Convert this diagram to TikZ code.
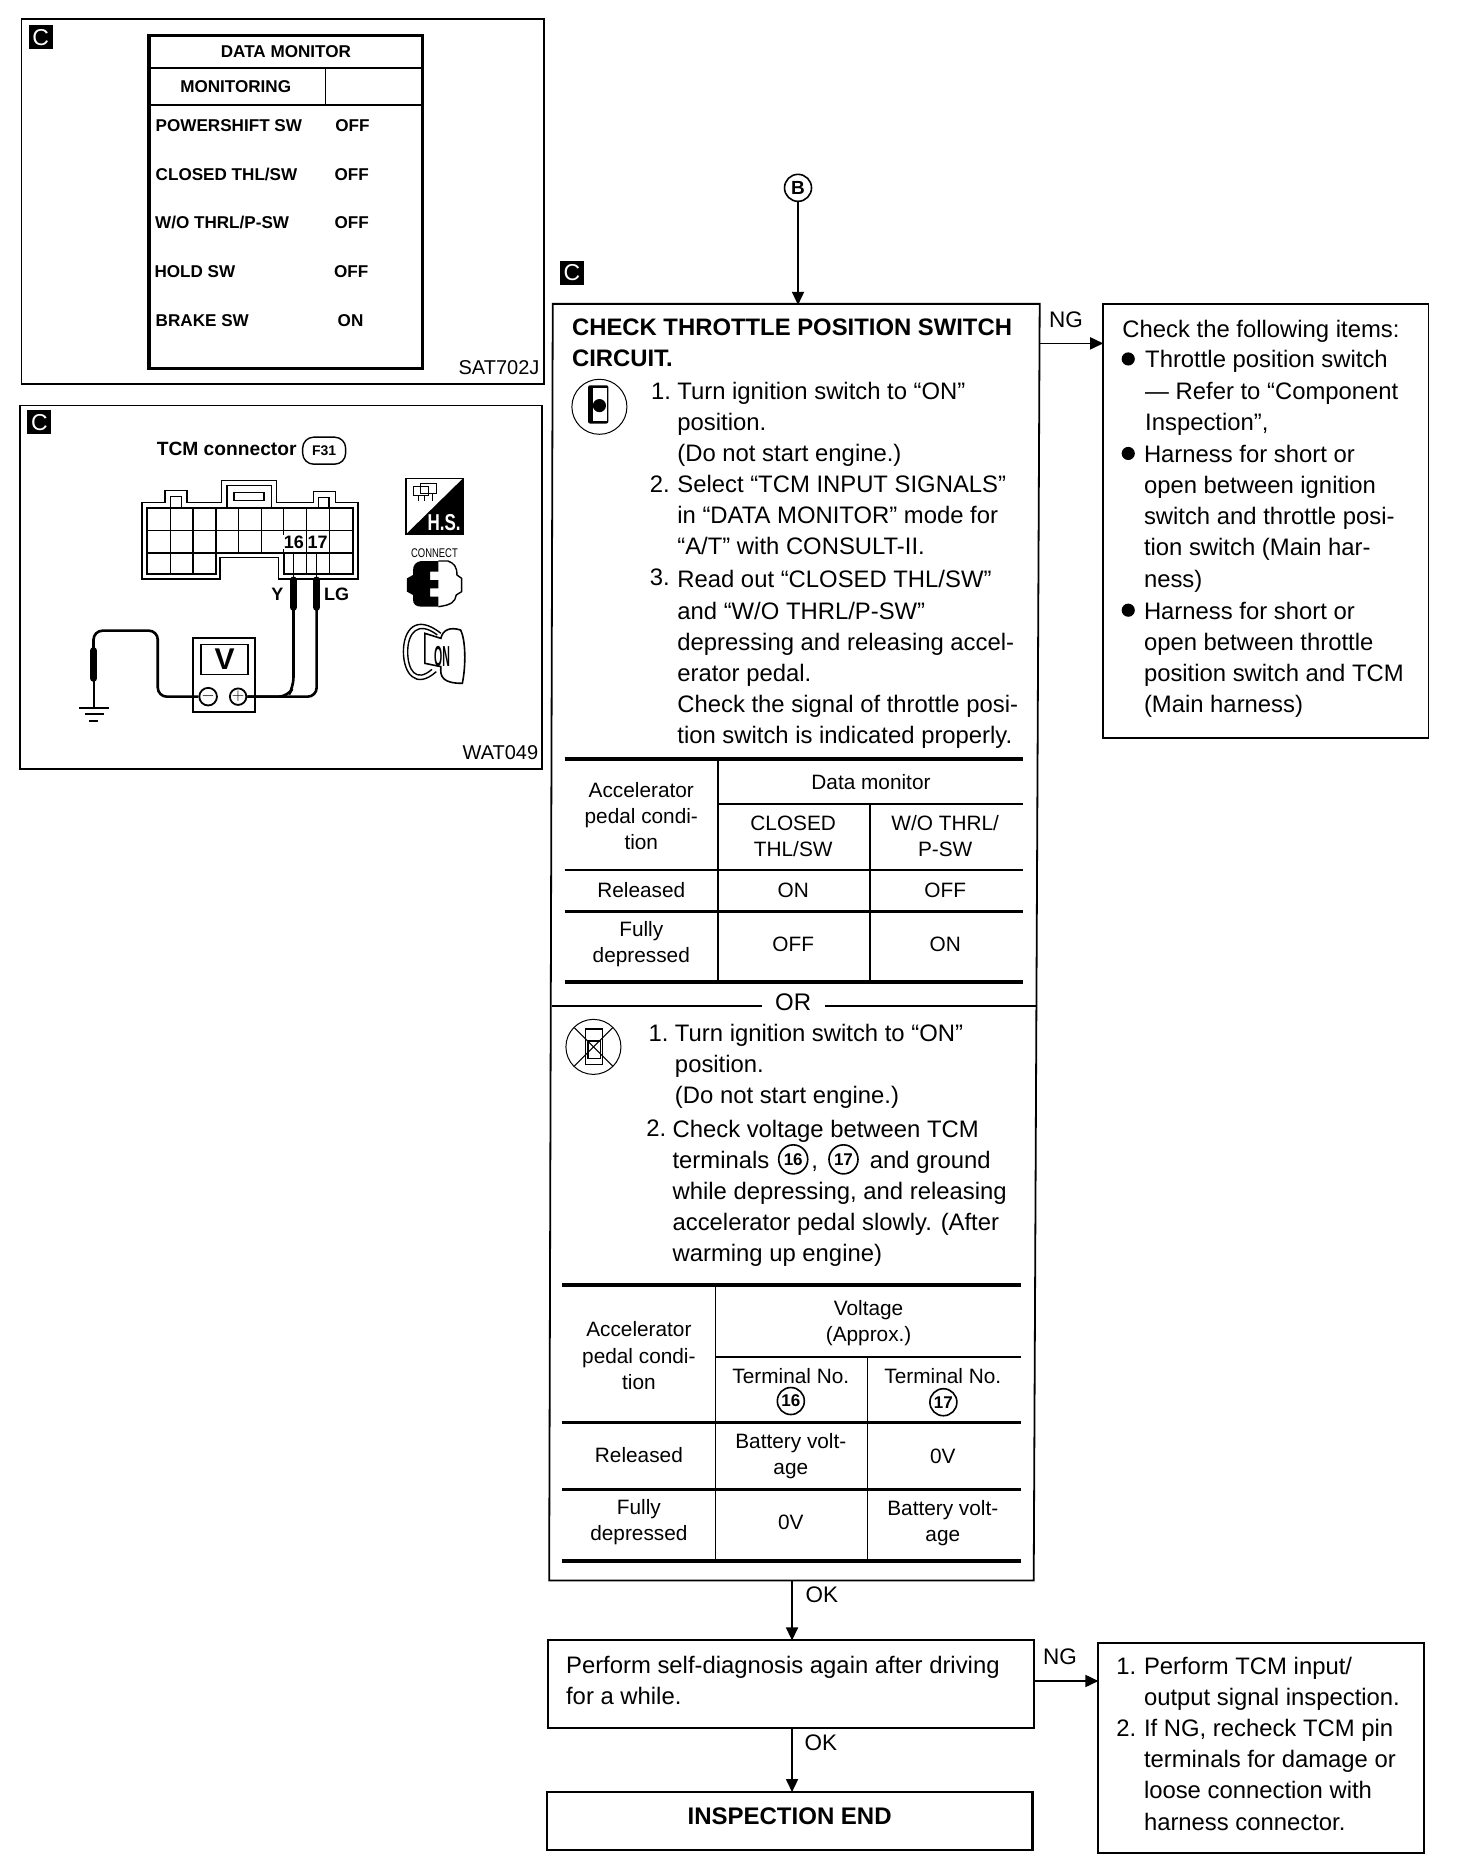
\documentclass[tikz,border=0pt]{standalone}
\usepackage{fontspec}
\setmainfont{Liberation Sans}
\usetikzlibrary{arrows.meta,fit}
\tikzset{
	txt/.style={align=left,anchor=base west,inner sep=0pt,yshift=-8pt,font=\fontsize{23.85}{31.2}\selectfont},
	hdr/.style={txt,font=\fontsize{23.85}{31.2}\selectfont\bfseries},
	cell/.style={align=center,inner sep=0pt,font=\fontsize{20.8}{26.3}\selectfont},
	lbl/.style={cell,font=\fontsize{22.5}{24}\selectfont},
	mon/.style={anchor=west,inner sep=0pt,font=\fontsize{17.1}{19}\selectfont\bfseries},
	badge/.style={fill=black,text=white,inner sep=0pt,minimum size=24pt,font=\fontsize{23}{23}\selectfont},
	code/.style={anchor=east,inner sep=0pt,font=\fontsize{20}{22}\selectfont},
	numc/.style={draw,circle,line width=1.6pt,inner sep=0pt,minimum size=29pt,font=\fontsize{17}{17}\selectfont\bfseries},
	box/.style={draw,line width=1.8pt,inner sep=0pt},
	arr/.style={line width=1.7pt,-{Triangle[length=13pt,width=12pt]},shorten >=-1pt},
	plain/.style={line width=1.8pt},
	heavy/.style={line width=4pt},
	wire/.style={line width=2.6pt,rounded corners=9pt},
	tipbar/.style={line width=7pt,line cap=round}
}
\begin{document}
\begin{tikzpicture}[x=1.1964pt,y=-1.1964pt]
	\useasboundingbox (0,0) rectangle (1217,1568);
	\fill[white] (0,0) rectangle (1217,1568);

	\node[box,fit={(18,16)(455,321)}] (panelmon) {};
	\node[badge] (badgemon) at (34,31) {C};
	\draw[line width=3.4pt] (124.5,29.5) rectangle (353,308);
	\draw[plain] (125,57) -- (353,57);
	\draw[plain] (125,88) -- (353,88);
	\draw[plain] (272,57) -- (272,88);
	\node[mon,anchor=center] (monhead) at (239,43) {DATA MONITOR};
	\node[mon,anchor=center] (monsub) at (197,72) {MONITORING};
	\node[mon] (sigpower) at (130,105) {POWERSHIFT SW};
	\node[mon] (sigclosed) at (130,146) {CLOSED THL/SW};
	\node[mon] (sigwo) at (129.5,186) {W/O THRL/P-SW};
	\node[mon] (sighold) at (129,227) {HOLD SW};
	\node[mon] (sigbrake) at (130,268) {BRAKE SW};
	\node[mon,anchor=center] (valpower) at (294.5,105) {OFF};
	\node[mon,anchor=center] (valclosed) at (294,146) {OFF};
	\node[mon,anchor=center] (valwo) at (294,186) {OFF};
	\node[mon,anchor=center] (valhold) at (293.5,227) {OFF};
	\node[mon,anchor=center] (valbrake) at (293,268) {ON};
	\node[code] (codemon) at (451,307) {SAT702J};

	\node[box,fit={(17,339)(453,643)}] (panelcon) {};
	\node[badge] (badgecon) at (33,353) {C};
	\begin{scope}[x=.357pt,y=-.3333pt,shift={(0pt,-400pt)}]
		\draw[line width=1.6pt] (398,308) -- (463,308) -- (463,272) -- (523,272) -- (523,308) -- (620,308) -- (620,242) -- (775,242) -- (775,308) -- (878,308) -- (878,275) -- (940,275) -- (940,308) -- (1003,308) -- (1003,537) -- (780,537) -- (780,473) -- (617,473) -- (617,537) -- (398,537) -- cycle;
		\draw[line width=1.6pt] (636,256) rectangle (760,325);
		\draw[line width=1.6pt] (656,277) rectangle (740,302);
		\draw[line width=1.4pt] (478,290) rectangle (508,325);
		\draw[line width=1.4pt] (892,292) rectangle (922,325);
		\draw[line width=1.8pt] (412,325) -- (988,325) -- (988,523) -- (795,523) -- (795,459) -- (605,459) -- (605,523) -- (412,523) -- cycle;
		\draw[line width=1.3pt] (412,392) -- (988,392);
		\draw[line width=1.3pt] (412,459) -- (988,459);
		\foreach \xgrid in {477,541,605,733,795,858,922} {
			\draw[line width=1.3pt] (\xgrid,325) -- (\xgrid,459);
		}
		\draw[line width=.8pt] (668,325) -- (668,459);
		\draw[line width=1.3pt] (477,459) -- (477,523);
		\draw[line width=1.3pt] (541,459) -- (541,523);
		\draw[line width=1.3pt] (858,459) -- (858,523);
		\draw[line width=1.3pt] (922,459) -- (922,523);
		\node[fill=white,inner sep=.5pt,font=\fontsize{18}{18}\selectfont\bfseries] (pinsixteen) at (823,427) {16};
		\node[fill=white,inner sep=.5pt,font=\fontsize{18}{18}\selectfont\bfseries] (pinseventeen) at (890,427) {17};
		\node[inner sep=0pt,font=\fontsize{18}{18}\selectfont\bfseries] (wirey) at (777,584) {Y};
		\node[inner sep=0pt,font=\fontsize{18}{18}\selectfont\bfseries] (wirelg) at (943,584) {LG};
		\node[inner sep=0pt,font=\fontsize{19.2}{22}\selectfont\bfseries] (contitle) at (635,146) {TCM connector};
		\node[draw,rounded corners=11pt,line width=1.4pt,minimum width=43pt,minimum height=27pt,inner sep=0pt,font=\fontsize{14}{14}\selectfont\bfseries] (conpill) at (908,152) {F31};
		\node[draw,line width=2pt,minimum width=61.5pt,minimum height=74pt,inner sep=0pt] (meter) at (628,825) {};
		\node[draw,line width=1.5pt,minimum width=47pt,minimum height=30pt,inner sep=0pt,font=\fontsize{30}{30}\selectfont\bfseries] (screen) at (629,779) {V};
		\node[draw,circle,line width=1.8pt,minimum size=15pt,inner sep=0pt,font=\fontsize{16}{16}\selectfont] (minus) at (583,890) {$-$};
		\node[draw,circle,line width=1.8pt,minimum size=15pt,inner sep=0pt,font=\fontsize{16}{16}\selectfont] (plus) at (667,890) {$+$};
		\coordinate (probea) at (822,455);
		\coordinate (probeb) at (887,455);
		\coordinate (probeg) at (262,745);
		\draw[line width=1.6pt] (probea) -- (822,540);
		\draw[line width=1.6pt] (probeb) -- (887,540);
		\draw[tipbar] (822,540) -- (822,622);
		\draw[tipbar] (887,540) -- (887,622);
		\draw[tipbar] (262,752) -- (262,835);
		\draw[line width=2pt] (262,835) -- (262,920);
		\draw[wire] (822,620) -- (822,860) -- (806,890) -- (plus.east);
		\draw[wire] (887,620) -- (887,890) -- (plus.east);
		\draw[wire] (minus.west) -- (442,890) -- (442,692) -- (262,692) -- (probeg);
		\draw[line width=1.8pt] (222,925) -- (305,925);
		\draw[line width=1.8pt] (238,943) -- (292,943);
		\draw[line width=1.8pt] (250,962) -- (275,962);
		\draw[line width=1.6pt] (1137,235) rectangle (1297,403);
		\fill (1137,403) -- (1297,235) -- (1297,403) -- cycle;
		\node[text=white,xscale=.85,yscale=1.15,inner sep=0pt,font=\fontsize{20}{20}\selectfont\bfseries] (hsmark) at (1244,369) {H.S.};
		\draw[line width=.8pt] (1158,258) rectangle (1200,285);
		\draw[line width=.8pt] (1178,250) rectangle (1222,280);
		\draw[line width=.8pt] (1172,285) -- (1172,303);
		\draw[line width=.8pt] (1188,285) -- (1188,303);
		\draw[line width=.8pt] (1210,280) -- (1210,303);
		\node[inner sep=0pt,xscale=.9,yscale=1.2,font=\fontsize{10.5}{10}\selectfont] (conmark) at (1217,458) {CONNECT};
		\fill (1228,483) -- (1180,483) .. controls (1165,485) and (1157,495) .. (1157,510) -- (1157,525) -- (1140,535) -- (1140,575) -- (1157,585) -- (1157,600) .. controls (1157,612) and (1165,620) .. (1180,620) -- (1228,620) -- (1228,590) -- (1205,590) -- (1205,565) -- (1228,565) -- (1228,540) -- (1205,540) -- (1205,515) -- (1228,515) -- cycle;
		\draw[line width=1.4pt] (1228,483) -- (1255,483) .. controls (1272,490) and (1280,500) .. (1280,525) -- (1293,535) -- (1293,575) -- (1278,585) .. controls (1275,605) and (1265,615) .. (1228,620);
		\draw[line width=1.4pt] (1222,815) .. controls (1165,870) and (1130,820) .. (1130,755) .. controls (1130,690) and (1165,640) .. (1235,700);
		\draw[line width=1.4pt] (1210,808) .. controls (1165,850) and (1142,810) .. (1142,755) .. controls (1142,700) and (1170,660) .. (1225,705);
		\draw[line width=1.6pt] (1190,700) -- (1190,790) -- (1235,800) .. controls (1232,830) and (1240,850) .. (1295,850) .. controls (1305,800) and (1305,720) .. (1290,690) .. controls (1260,680) and (1240,690) .. (1235,715) -- cycle;
		\node[xscale=.62,yscale=1.7,inner sep=0pt,font=\fontsize{17}{17}\selectfont\bfseries] (keyon) at (1238,770) {ON};
	\end{scope}
	\node[code] (codecon) at (450,629) {WAT049};

	\node[draw,circle,line width=1.6pt,minimum size=27pt,inner sep=0pt,font=\fontsize{19}{19}\selectfont\bfseries] (entryb) at (667,157) {B};
	\node[badge] (badgemain) at (478,228) {C};
	\coordinate (maintl) at (462,254);
	\coordinate (maintr) at (869,254);
	\coordinate (mainbr) at (864,1321);
	\coordinate (mainbl) at (459,1321);
	\draw[plain] (maintl) -- (maintr) -- (mainbr) -- (mainbl) -- cycle;
	\coordinate (mainin) at (667,254);
	\coordinate (mainng) at (869,287);
	\coordinate (mainok) at (662,1321);
	\draw[arr] (entryb) -- (mainin);

	\node[hdr] (title) at (478,300) {CHECK THROTTLE POSITION SWITCH\\CIRCUIT.};
	\draw[line width=1pt] (501,340) circle (23);
	\fill[rounded corners=2pt] (491.5,322) rectangle (508.5,354);
	\fill[white] (496,324) rectangle (507,352);
	\fill (501,339) circle (5.5);
	\node[txt] (stepa) at (544,327) {1.};
	\node[txt] (stepatxt) at (566,379) {Turn ignition switch to “ON”\\position.\\(Do not start engine.)};
	\node[txt] (stepb) at (543,405) {2.};
	\node[txt] (stepbtxt) at (566,457) {Select “TCM INPUT SIGNALS”\\in “DATA MONITOR” mode for\\“A/T” with CONSULT-II.};
	\node[txt] (stepc) at (543,483) {3.};
	\node[txt] (stepctxt) at (566,615) {Read out “CLOSED THL/SW”\\and “W/O THRL/P-SW”\\depressing and releasing accel-\\erator pedal.\\Check the signal of throttle posi-\\tion switch is indicated properly.};

	\draw[heavy] (472,634) -- (855,634);
	\draw[plain] (600,672) -- (855,672);
	\draw[plain] (472,727) -- (855,727);
	\draw[line width=2.4pt] (472,762) -- (855,762);
	\draw[heavy] (472,821) -- (855,821);
	\draw[plain] (600,634) -- (600,821);
	\draw[plain] (727,672) -- (727,821);
	\node[cell] (pedala) at (536,682) {Accelerator\\pedal condi-\\tion};
	\node[cell] (dataa) at (728,654) {Data monitor};
	\node[cell] (closeda) at (663,699) {CLOSED\\THL/SW};
	\node[cell] (woa) at (790,699) {W/O THRL/\\P-SW};
	\node[cell] (relia) at (536,744) {Released};
	\node[cell] (relib) at (663,744) {ON};
	\node[cell] (relic) at (790,744) {OFF};
	\node[cell] (depa) at (536,789) {Fully\\depressed};
	\node[cell] (depb) at (663,789) {OFF};
	\node[cell] (depc) at (790,789) {ON};

	\draw[plain] (461,841) -- (866,841);
	\node[fill=white,inner sep=0pt,minimum width=63pt,minimum height=24pt,font=\fontsize{24}{24}\selectfont] (ormark) at (663,838) {OR};

	\draw[line width=1pt] (496,875) circle (23);
	\draw[line width=1.3pt] (489.5,860) rectangle (503.5,890);
	\draw[line width=1.2pt] (491.5,870) rectangle (502,885);
	\draw[line width=1pt] (480,859) -- (512,891);
	\draw[line width=1pt] (512,859) -- (480,891);
	\node[txt] (altera) at (542,864) {1.};
	\node[txt] (alteratxt) at (564,916) {Turn ignition switch to “ON”\\position.\\(Do not start engine.)};
	\node[txt] (alterb) at (540,943) {2.};
	\node[txt] (alterbtxt) at (562,1048) {Check voltage between TCM\\terminals\hspace{42pt},\hspace{52pt}and ground\\while depressing, and releasing\\accelerator pedal slowly. (After\\warming up engine)};
	\node[numc] (termsixteen) at (663,969) {16};
	\node[numc] (termseventeen) at (705,969) {17};

	\draw[heavy] (470,1074) -- (853,1074);
	\draw[plain] (598,1134) -- (853,1134);
	\draw[line width=2.4pt] (470,1189) -- (853,1189);
	\draw[line width=2.4pt] (470,1245) -- (853,1245);
	\draw[heavy] (470,1305) -- (853,1305);
	\draw[plain] (598,1074) -- (598,1305);
	\draw[plain] (725,1134) -- (725,1305);
	\node[cell] (pedalb) at (534,1133) {Accelerator\\pedal condi-\\tion};
	\node[cell] (voltb) at (726,1106) {Voltage\\(Approx.)};
	\node[cell] (termb) at (661,1150) {Terminal No.};
	\node[cell] (termc) at (788,1150) {Terminal No.};
	\node[numc,minimum size=27pt] (headsixteen) at (661,1171) {16};
	\node[numc,minimum size=27pt] (headseventeen) at (788.5,1172) {17};
	\node[cell] (relb) at (534,1216) {Released};
	\node[cell] (relsixteen) at (661,1217) {Battery volt-\\age};
	\node[cell] (relseventeen) at (788,1217) {0V};
	\node[cell] (depd) at (534,1272) {Fully\\depressed};
	\node[cell] (depsixteen) at (661,1272) {0V};
	\node[cell] (depseventeen) at (788,1273) {Battery volt-\\age};

	\node[box,fit={(922,254)(1194,617)}] (ngcheck) {};
	\draw[arr] (mainng) -- (mainng -| ngcheck.west);
	\node[lbl] (ngone) at (891,267) {NG};
	\node[txt] (nglead) at (938,275) {Check the following items:};
	\node[txt] (ngitema) at (957,353) {Throttle position switch\\— Refer to “Component\\Inspection”,};
	\node[txt] (ngitemb) at (956,484) {Harness for short or\\open between ignition\\switch and throttle posi-\\tion switch (Main har-\\ness)};
	\node[txt] (ngitemc) at (956,589) {Harness for short or\\open between throttle\\position switch and TCM\\(Main harness)};
	\foreach \ybul in {300,379,510} {
		\fill (943,\ybul) circle (5.5);
	}

	\node[box,fit={(458,1371)(864,1444)}] (rediag) {};
	\node[txt] (rediagtxt) at (473,1418) {Perform self-diagnosis again after driving\\for a while.};
	\draw[arr] (mainok) -- (rediag.north -| mainok);
	\node[lbl] (okone) at (687,1333) {OK};
	\node[box,line width=2.4pt,fit={(457,1498)(863,1546)}] (finish) {};
	\node[inner sep=0pt,font=\fontsize{24}{26}\selectfont\bfseries] (finishtxt) at (660,1518) {INSPECTION END};
	\draw[arr] (rediag.south -| mainok) -- (finish.north -| mainok);
	\node[lbl] (oktwo) at (686,1457) {OK};

	\node[box,fit={(918,1373)(1190,1549)}] (ngio) {};
	\coordinate (rediagng) at (864,1405);
	\draw[arr] (rediagng) -- (rediagng -| ngio.west);
	\node[lbl] (ngtwo) at (886,1385) {NG};
	\node[txt] (ioa) at (933,1393) {1.};
	\node[txt] (ioatxt) at (956,1419) {Perform TCM input/\\output signal inspection.};
	\node[txt] (iob) at (933,1445) {2.};
	\node[txt] (iobtxt) at (956,1523) {If NG, recheck TCM pin\\terminals for damage or\\loose connection with\\harness connector.};
\end{tikzpicture}
\end{document}
